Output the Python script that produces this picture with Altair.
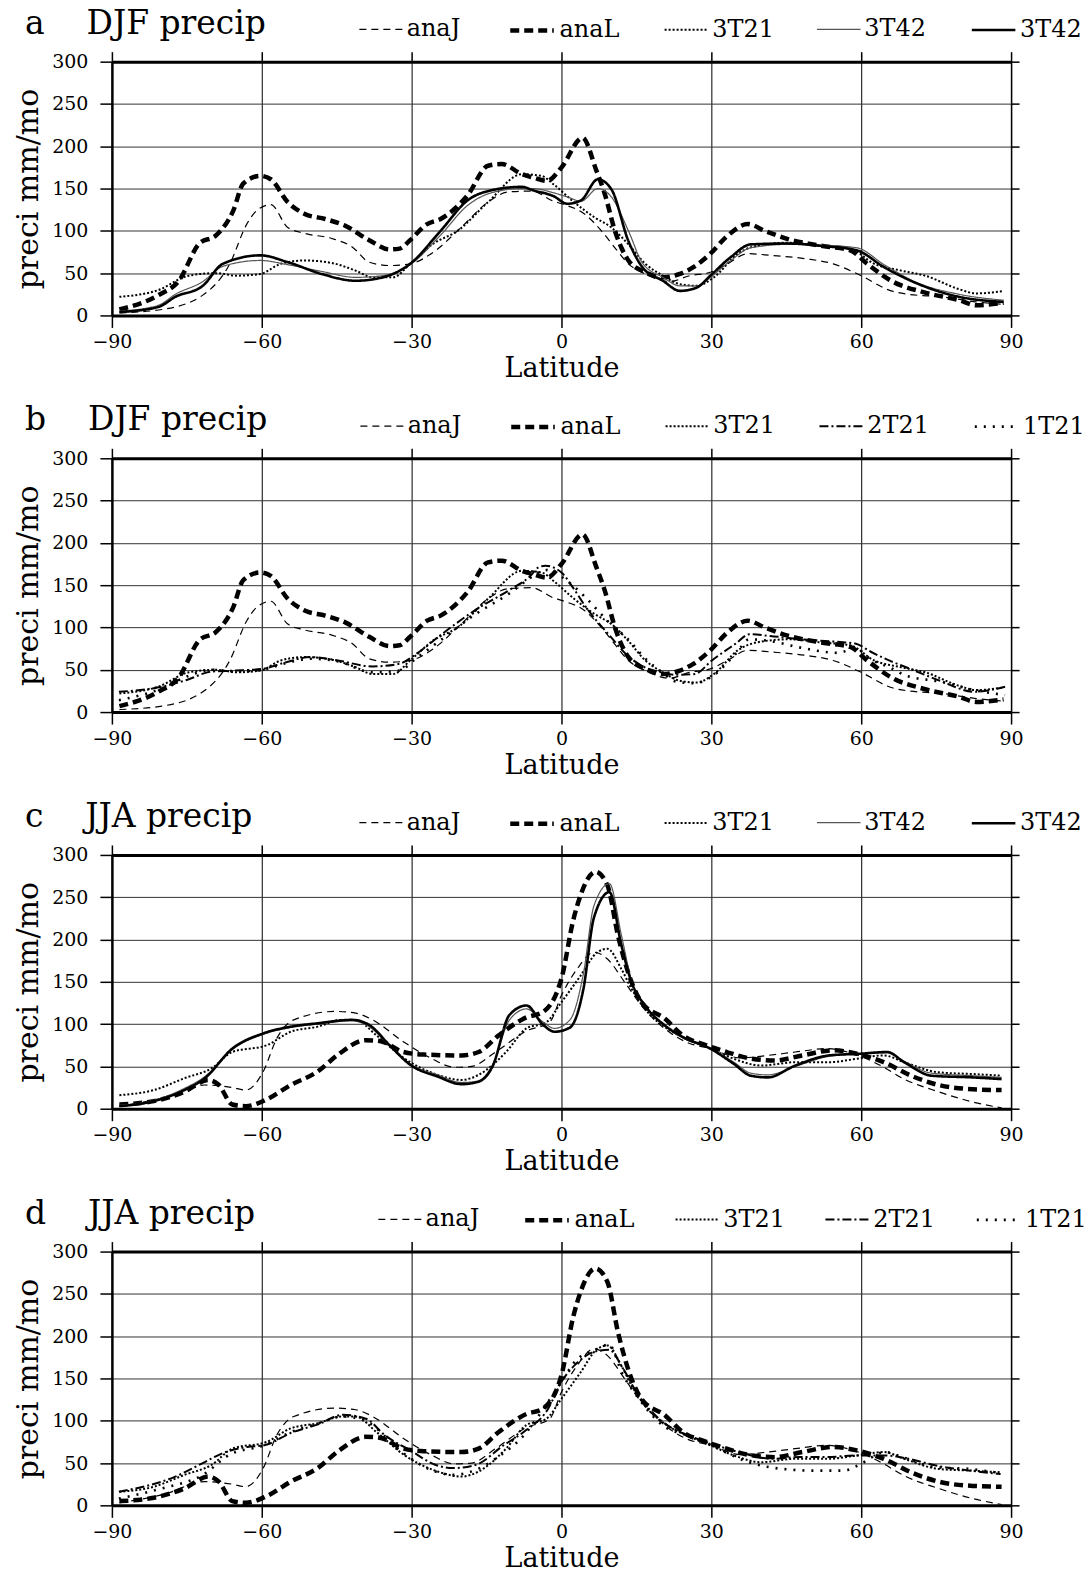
import altair as alt
import pandas as pd

FONT = "DejaVu Serif"
LAT_TICKS = [-90, -60, -30, 0, 30, 60, 90]
Y_TICKS = [0, 50, 100, 150, 200, 250, 300]

# ---------------- DJF ----------------
DJF_ANAJ_LAT = [-88.5, -80, -71.8, -66.4, -63, -61, -58.2, -54.8, -51.4, -46, -41.9, -38.5, -34.4, -30.3, -25.6, -20.1,
                -14.7, -10.6, -6, -1.6, 0, 4.6, 8, 10.7, 13.4, 16.8, 21.6, 25.7, 29.8, 33.2, 37.3, 42, 48.9, 54.4, 60,
                66, 69.4, 76.2, 83, 88.5]
DJF_ANAJ_VAL = [3, 7, 24, 61, 108, 124, 131, 104, 97, 91, 81, 63, 59, 61, 75, 104, 134, 146, 147, 135, 132, 120, 100, 80,
                61, 49, 40, 47, 51, 61, 73, 71, 67, 61, 47, 29, 25, 22, 16, 13]

DJF_ANAL_LAT = [-88.5, -80.7, -76.6, -72.5, -69.1, -65.7, -63.7, -60.3, -58.2, -54.8, -51.4, -47.3, -43.3, -38.5, -34.4,
                -32.4, -30.3, -26.9, -24.2, -18.8, -14.7, -12, -7.9, -5.7, -2.9, 0, 4.2, 7, 8.7, 10.7, 13.4, 16.8, 20.3,
                23.7, 26.4, 29.8, 33.2, 37.3, 40.7, 45.5, 52.3, 57.8, 61.2, 66, 72.8, 79.6, 83, 88.5]
DJF_ANAL_VAL = [7, 24, 41, 85, 95, 124, 156, 165, 161, 134, 120, 114, 106, 89, 78, 79, 89, 108, 114, 142, 177, 179, 167,
                163, 159, 175, 210, 171, 143, 100, 65, 51, 45, 49, 57, 73, 94, 108, 100, 90, 82, 77, 61, 41, 27, 18, 12,
                15]

DJF_3T21_LAT = [-88.5, -80.7, -74.6, -69.1, -65, -60.3, -56.2, -51.4, -46, -41.2, -37.8, -33.7, -30.3, -25.6, -20.8,
                -14.7, -7.9, -4, -1.6, 2.5, 6.6, 10, 13.4, 16.8, 20.3, 23.7, 27.1, 30.5, 35.3, 40.7, 45.5, 52.3, 57.8,
                62.6, 68, 72.8, 79.6, 83, 88.5]
DJF_3T21_VAL = [22, 30, 47, 50, 47, 49, 61, 65, 62, 53, 45, 45, 61, 85, 100, 134, 167, 165, 155, 134, 116, 104, 84, 61,
                47, 37, 35, 45, 73, 84, 86, 82, 79, 61, 53, 47, 31, 26, 29]

DJF_3T42_LAT = [-88.5, -80.7, -77.3, -71.8, -67.8, -60.3, -54.8, -48, -41.2, -35.8, -30.3, -24.2, -18.8, -14, -7.9,
                -5.7, -1.6, 1.2, 3.9, 7.3, 10, 13.4, 16.2, 20.3, 23.7, 27.1, 29.8, 33.9, 37.9, 45.5, 52.3, 59.1, 64.6,
                70.7, 79.6, 88.5]
DJF_3T42_THICK_VAL = [4, 10, 22, 35, 61, 71, 63, 49, 41, 45, 61, 100, 136, 148, 152, 148, 141, 132, 136, 161, 149, 88,
                      57, 41, 29, 33, 47, 69, 84, 85, 82, 77, 57, 39, 22, 16]
DJF_3T42_THIN_VAL = [5, 12, 25, 40, 58, 65, 60, 52, 45, 47, 60, 95, 130, 145, 150, 150, 145, 140, 135, 150, 140, 100,
                     62, 45, 35, 35, 45, 65, 80, 84, 83, 80, 60, 40, 25, 18]

DJF_XT21_LAT = [-88.6, -80, -75, -70, -65.3, -59.9, -55.1, -50.3, -44.8, -37.9, -32.5, -29, -24.2, -17.4, -10.5, -6.4,
                -4.6, -3.2, 0, 2.2, 4.9, 9.7, 13, 17, 19.9, 23, 26.7, 30.1, 34.9, 37.6, 41.7, 48, 55.3, 58.8, 62, 66, 69,
                75.8, 82.6, 88.8]
DJF_2T21_VAL = [24, 30, 38, 48, 49, 51, 59, 65, 61, 54, 57, 69, 91, 120, 144, 160, 171, 173, 165, 148, 124, 90, 68, 52,
                47, 44, 45, 61, 81, 92, 90, 86, 83, 81, 71, 60, 53, 37, 24, 30]
DJF_1T21_VAL = [14, 28, 42, 50, 48, 50, 58, 63, 60, 47, 49, 64, 85, 115, 140, 158, 165, 168, 160, 150, 135, 105, 88, 62,
                48, 36, 34, 42, 69, 86, 84, 76, 70, 75, 62, 52, 43, 36, 26, 20]

# ---------------- JJA ----------------
JJA_ANAJ_LAT = [-88.5, -79.6, -71.4, -65.9, -63.2, -59.7, -57, -53.6, -45.3, -41.2, -37.8, -31.6, -26.2, -21.4, -18,
                -13.2, -7, -2.4, 0, 3.1, 6.5, 9.2, 12.6, 16, 20.8, 24.9, 29.8, 35.9, 41.3, 46.8, 53, 58.4, 63.9, 68.6,
                75.5, 82.3, 88.1]
JJA_ANAJ_VAL = [3, 13, 28, 25, 22, 44, 83, 105, 115, 113, 105, 79, 60, 49, 50, 67, 92, 102, 134, 165, 185, 177, 150,
                122, 94, 79, 71, 60, 63, 67, 71, 65, 51, 35, 20, 8, 1]

JJA_ANAL_LAT = [-88.5, -81.6, -75.5, -70.7, -68.6, -65.9, -63.2, -59, -54.2, -48.8, -44.7, -39.2, -36.4, -31.6, -27.5,
                -20, -16.6, -12.5, -7, -3.8, 0, 2.4, 3.8, 6.8, 9.2, 11.3, 14, 16, 20.8, 24.2, 29, 33.1, 37.2, 42.7, 48.2,
                54.3, 59.1, 64.5, 70, 75.5, 82.3, 88.1]
JJA_ANAL_VAL = [5, 9, 20, 34, 28, 5, 3, 11, 28, 44, 64, 81, 80, 67, 64, 63, 67, 87, 108, 114, 154, 224, 252, 280, 264,
                205, 150, 126, 106, 87, 75, 67, 60, 57, 63, 69, 65, 55, 39, 28, 23, 22]

JJA_3T21_LAT = [-88.5, -81.6, -75.5, -70, -65.9, -59, -54.2, -48.8, -44, -41.2, -37.1, -31.6, -24.8, -20, -16.6, -11.1,
                -7, -3.1, 0, 3.8, 7.2, 9.2, 12, 14, 16.7, 20.8, 24.9, 29.8, 34.5, 40, 46.8, 53.6, 59.1, 64.5, 68.6, 75.5,
                82.3, 88.1]
JJA_3T21_VAL = [16, 22, 36, 48, 67, 75, 91, 97, 105, 105, 87, 60, 40, 34, 40, 67, 95, 102, 126, 157, 185, 189, 165, 142,
                118, 96, 83, 71, 59, 51, 55, 55, 59, 63, 55, 43, 41, 39]

JJA_3T42_LAT = [-88.5, -81.6, -75.5, -71.4, -65.9, -59.7, -54.2, -48.8, -41.9, -38.5, -34.4, -30.3, -24.8, -20, -16.6,
                -13.8, -10.4, -7, -3.8, -1.4, 1.7, 4.4, 6.5, 9.6, 12, 14, 16.7, 20.8, 24.2, 29.8, 34.5, 37.9, 41.3, 46.8,
                53.6, 59.8, 65.2, 68.6, 74.1, 82.3, 88.1]
JJA_3T42_THICK_VAL = [3, 9, 22, 36, 71, 89, 97, 101, 105, 99, 75, 52, 38, 29, 32, 50, 111, 122, 100, 91, 96, 142, 226,
                      256, 193, 150, 122, 98, 85, 71, 53, 39, 37, 51, 63, 65, 67, 55, 39, 37, 35]
JJA_3T42_THIN_VAL = [4, 10, 24, 38, 70, 88, 96, 100, 104, 97, 74, 53, 40, 31, 33, 52, 105, 118, 103, 95, 105, 160, 240,
                     266, 205, 152, 123, 97, 84, 71, 55, 42, 40, 50, 62, 65, 66, 56, 42, 39, 37]

JJA_2T21_LAT = [-88.6, -77.3, -71.8, -67.7, -62.9, -59.5, -54, -48.6, -43.8, -39, -35.6, -30, -25.3, -21.8, -17.1,
                -11.6, -7.5, -2.7, 0, 2.7, 6.8, 9.5, 12.3, 15, 20.4, 25.2, 30, 35.4, 42.3, 47.7, 53.2, 58.6, 64.8, 69.5,
                75, 81.8, 87.9]
JJA_2T21_VAL = [16, 34, 50, 62, 69, 71, 86, 96, 107, 102, 84, 64, 48, 44, 48, 71, 87, 114, 146, 166, 182, 184, 162, 134,
                98, 83, 73, 63, 55, 57, 57, 59, 59, 55, 47, 41, 37]

JJA_1T21_LAT = [-88.6, -80, -71.8, -66.4, -59.5, -54, -48.6, -43.8, -39, -32.2, -25.3, -21.8, -17.1, -13, -7.5, -2.7, 0,
                2.7, 6.8, 9.5, 12.3, 15, 20.4, 27.3, 31.4, 37.5, 44.3, 51.1, 56.6, 59.3, 64.8, 68.2, 75, 81.8, 87.9]
JJA_1T21_VAL = [8, 20, 36, 60, 71, 87, 97, 105, 99, 64, 40, 36, 42, 56, 83, 122, 146, 170, 184, 190, 154, 130, 94, 79,
                67, 51, 43, 41, 41, 47, 63, 57, 45, 43, 38]

# line styles: key -> (dash, width, colour)
STYLE = {
    "anaJ": ([7, 5], 1.2, "black"),
    "anaL": ([9, 5], 4.5, "black"),
    "3T21": ([2, 2], 2, "black"),
    "3T42_thin": ([1, 0], 1.2, "#555555"),
    "3T42_thick": ([1, 0], 2.6, "black"),
    "2T21": ([9, 3, 2, 3], 2, "black"),
    "1T21": ([2, 7], 2.6, "black"),
}


def panel(title, series, title_pad=92, col_pad=40):
    rows = []
    for key, lats, vals in series:
        for la, v in zip(lats, vals):
            rows.append({"series": key, "lat": la, "val": v})
    df = pd.DataFrame(rows)
    keys = [s[0] for s in series]
    legend = alt.Legend(
        title=title, orient="none", legendX=-87, legendY=-56, direction="horizontal",
        titleOrient="left", titleFont=FONT, titleFontSize=33, titleFontWeight="normal", titleColor="black",
        titlePadding=title_pad, titleBaseline="middle", titleLimit=600, padding=0,
        symbolType="stroke", symbolSize=1900, labelFont=FONT, labelFontSize=24, labelColor="black",
        labelOffset=3, columnPadding=col_pad, labelLimit=300, labelExpr="split(datum.label, '_')[0]",
    )
    xscale = alt.Scale(domain=[-90, 90], nice=False, zero=False)
    yscale = alt.Scale(domain=[0, 300], nice=False)
    lines = alt.Chart(df).mark_line(interpolate="monotone", clip=True).encode(
        x=alt.X("lat:Q", scale=xscale, axis=alt.Axis(
            orient="bottom", values=LAT_TICKS, format="d", title="Latitude", titleFont=FONT, titleFontSize=27,
            titleFontWeight="normal", titleColor="black", titlePadding=4, labelFont=FONT, labelFontSize=19,
            labelColor="black", labelPadding=5, labelFlush=False, labelOverlap=False, tickSize=12,
            tickColor="black", tickWidth=1.5, domainColor="black", domainWidth=3, grid=True, gridColor="black",
            gridWidth=1, gridOpacity=1)),
        y=alt.Y("val:Q", scale=yscale, axis=alt.Axis(
            orient="left", values=Y_TICKS, title="preci mm/mo", titleFont=FONT, titleFontSize=30,
            titleFontWeight="normal", titleColor="black", titlePadding=8, labelFont=FONT, labelFontSize=19,
            labelColor="black", labelPadding=12, labelFlush=False, labelOverlap=False, tickSize=12,
            tickColor="black", tickWidth=1.5, domainColor="black", domainWidth=2.5, grid=True,
            gridColor="#333333", gridWidth=1, gridOpacity=1)),
        strokeDash=alt.StrokeDash("series:N", scale=alt.Scale(domain=keys, range=[STYLE[k][0] for k in keys]),
                                  legend=legend),
        strokeWidth=alt.StrokeWidth("series:N", scale=alt.Scale(type="ordinal", domain=keys,
                                                                range=[STYLE[k][1] for k in keys]),
                                    legend=legend),
        color=alt.Color("series:N", scale=alt.Scale(domain=keys, range=[STYLE[k][2] for k in keys]),
                        legend=legend),
    )
    frame = alt.Chart(df).mark_point(opacity=0).encode(
        x=alt.X("lat:Q", scale=xscale, axis=alt.Axis(
            orient="top", values=LAT_TICKS, labels=False, title=None, tickSize=10, tickColor="black",
            tickWidth=1.5, domainColor="black", domainWidth=3, grid=False)),
        y=alt.Y("val:Q", scale=yscale, axis=alt.Axis(
            orient="right", values=Y_TICKS, labels=False, title=None, tickSize=8, tickColor="black",
            tickWidth=1.5, domainColor="black", domainWidth=1.5, grid=False)),
    )
    return alt.layer(lines, frame).resolve_axis(x="independent", y="independent").properties(
        width=900, height=254)


NB = "\u00a0\u00a0\u00a0\u00a0"
pa = panel("a" + NB + "DJF precip", [
    ("anaJ", DJF_ANAJ_LAT, DJF_ANAJ_VAL),
    ("anaL", DJF_ANAL_LAT, DJF_ANAL_VAL),
    ("3T21", DJF_3T21_LAT, DJF_3T21_VAL),
    ("3T42_thin", DJF_3T42_LAT, DJF_3T42_THIN_VAL),
    ("3T42_thick", DJF_3T42_LAT, DJF_3T42_THICK_VAL),
])
pb = panel("b" + NB + "DJF precip", [
    ("anaJ", DJF_ANAJ_LAT, DJF_ANAJ_VAL),
    ("anaL", DJF_ANAL_LAT, DJF_ANAL_VAL),
    ("3T21", DJF_3T21_LAT, DJF_3T21_VAL),
    ("2T21", DJF_XT21_LAT, DJF_2T21_VAL),
    ("1T21", DJF_XT21_LAT, DJF_1T21_VAL),
])
pc = panel("c" + NB + "JJA precip", [
    ("anaJ", JJA_ANAJ_LAT, JJA_ANAJ_VAL),
    ("anaL", JJA_ANAL_LAT, JJA_ANAL_VAL),
    ("3T21", JJA_3T21_LAT, JJA_3T21_VAL),
    ("3T42_thin", JJA_3T42_LAT, JJA_3T42_THIN_VAL),
    ("3T42_thick", JJA_3T42_LAT, JJA_3T42_THICK_VAL),
], title_pad=106)
pd_ = panel("d" + NB + "JJA precip", [
    ("anaJ", JJA_ANAJ_LAT, JJA_ANAJ_VAL),
    ("anaL", JJA_ANAL_LAT, JJA_ANAL_VAL),
    ("3T21", JJA_3T21_LAT, JJA_3T21_VAL),
    ("2T21", JJA_2T21_LAT, JJA_2T21_VAL),
    ("1T21", JJA_1T21_LAT, JJA_1T21_VAL),
], title_pad=122, col_pad=36)

chart = alt.vconcat(pa, pb, pc, pd_, spacing=21).resolve_scale(
    color="independent", strokeDash="independent", strokeWidth="independent"
).properties(
    padding={"left": 13, "top": 5, "right": 2, "bottom": 0},
    background="white",
).configure_view(stroke=None)

chart.save("out.html", embed_options={"renderer": "svg", "actions": False})
